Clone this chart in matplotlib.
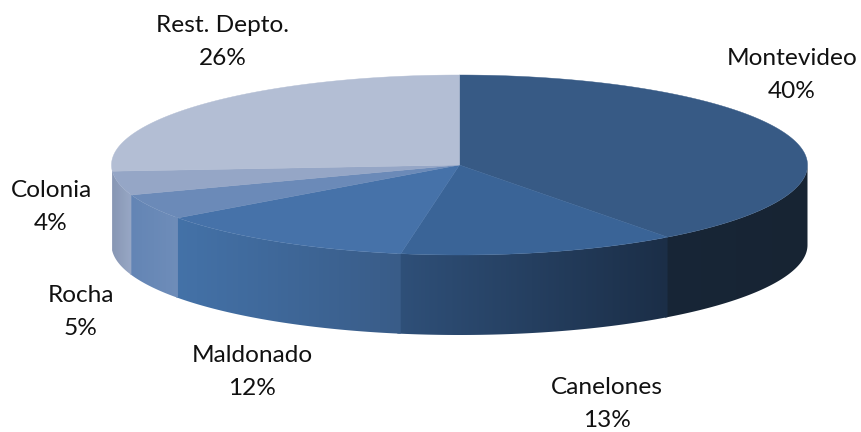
import numpy as np
from matplotlib import pyplot as plt
from matplotlib.colors import to_rgb
from matplotlib.patches import Polygon

labels = ['Montevideo', 'Canelones', 'Maldonado', 'Rocha', 'Colonia', 'Rest. Depto.']
shares = [39.8, 12.9, 12.3, 4.6, 4.3, 26.1]

top_colors = ['#375a85', '#3a6497', '#4672a9', '#6b8ab8', '#95a6c6', '#b3bed4']
# wall colours, right end then left end of each slice
wall_right = ['#172433', '#1b2e47', '#395c88', '#6f8db9', '#98a8c6', '#98a8c6']
wall_left = ['#182637', '#2f5079', '#4472a8', '#6385b5', '#8796b3', '#8796b3']

label_xy = [(792, 75), (607, 404), (252, 372), (81, 312), (51, 207), (223, 42)]

cx, cy = 459.5, 165
a, b = 348, 90
depth = 80
fontsize = 17.6

plt.rcParams['font.family'] = ['Lato', 'DejaVu Sans']
fig = plt.figure(figsize=(8.61, 4.32), dpi=100)
ax = fig.add_axes([0, 0, 1, 1])
ax.axis('off')


def rim(theta):
    return cx + a * np.sin(theta), cy - b * np.cos(theta)


edges = np.radians(np.cumsum([0] + shares) * 3.6)

# side wall, one clipped gradient image per slice
for i in range(len(shares)):
    t0 = max(edges[i], np.pi / 2)
    t1 = min(edges[i + 1], 3 * np.pi / 2)
    if t1 <= t0:
        continue
    th = np.linspace(t0, min(t1 + 0.01, 3 * np.pi / 2), 100)
    x, y = rim(th)
    poly = Polygon(np.c_[np.r_[x, x[::-1]], np.r_[y, y[::-1] + depth]], closed=True,
                   transform=ax.transData, fc='none', ec='none')
    ax.add_patch(poly)
    f = np.linspace(0, 1, 256)[:, None]
    grad = f * np.array(to_rgb(wall_right[i])) + (1 - f) * np.array(to_rgb(wall_left[i]))
    im = ax.imshow(grad[None, :, :], extent=(x.min(), x.max(), y.max() + depth, y.min()),
                   aspect='auto', zorder=2, interpolation='bilinear')
    im.set_clip_path(poly)

# top of the pie
for i in range(len(shares)):
    th = np.linspace(edges[i], edges[i + 1], 200)
    x, y = rim(th)
    ax.fill(np.r_[cx, x], np.r_[cy, y], color=top_colors[i], lw=0.3, zorder=3)

for i in range(len(shares)):
    ax.text(label_xy[i][0], label_xy[i][1], labels[i] + '\n' + str(round(shares[i])) + '%',
            ha='center', va='center', fontsize=fontsize, color='#111111', linespacing=1.7)

ax.set_xlim(0, 861)
ax.set_ylim(432, 0)

fig.savefig('out.png', dpi=100)
